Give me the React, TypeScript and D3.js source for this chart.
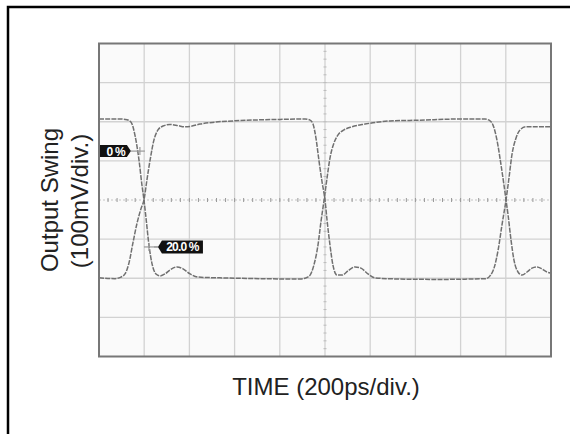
import React from 'react'
import * as d3 from 'd3'

// scope traces, [time ps, level mV]
const traceA: [number, number][] = [
  [0, 207], [93, 207], [124, 205], [142, 199], [159, 166], [177, 102], [190, 38], [199, 0],
  [208, -46], [221, -115], [235, -164], [252, -189], [270, -194], [292, -189], [314, -179],
  [345, -171], [372, -176], [403, -189], [438, -197], [535, -199], [712, -201], [889, -202],
  [916, -199], [934, -192], [951, -166], [969, -115], [982, -56], [996, 0], [1009, 56],
  [1022, 107], [1040, 146], [1057, 166], [1084, 179], [1119, 187], [1177, 194], [1288, 202],
  [1420, 204], [1597, 207], [1708, 207], [1726, 204], [1743, 192], [1761, 153], [1779, 89],
  [1792, 38], [1801, 0], [1810, -38], [1823, -102], [1836, -153], [1854, -184], [1872, -192],
  [1894, -184], [1916, -174], [1938, -171], [1960, -176], [1982, -184], [2000, -187],
]
const traceB: [number, number][] = [
  [0, -199], [71, -201], [97, -197], [115, -189], [133, -160], [150, -110], [168, -60],
  [186, -22], [199, 0], [212, 51], [226, 102], [243, 153], [261, 179], [283, 189], [314, 193],
  [350, 190], [381, 187], [412, 189], [447, 194], [513, 199], [624, 203], [801, 206],
  [912, 207], [934, 204], [947, 194], [960, 158], [973, 102], [987, 46], [1000, 0],
  [1009, -51], [1022, -115], [1035, -166], [1053, -192], [1075, -192], [1102, -181],
  [1133, -171], [1159, -174], [1190, -189], [1221, -199], [1332, -202], [1509, -203],
  [1642, -202], [1712, -201], [1730, -194], [1748, -174], [1766, -128], [1783, -64],
  [1801, 0], [1814, 56], [1827, 115], [1845, 158], [1863, 179], [1889, 187], [1929, 187],
  [2000, 187],
]
const cursorLabels = ['0 %', '20.0 %']
const cursorTimes = [181, 221]
const cursorLevels = [125, -120]

const W = 570, H = 434
const left = 99, right = 551, top = 43.5, bottom = 356.5

export default function App() {
  const x = d3.scaleLinear().domain([0, 2000]).range([left, right])
  const y = d3.scaleLinear().domain([-400, 400]).range([bottom, top])
  const line = d3.line<[number, number]>()
    .x(d => x(d[0])).y(d => y(d[1]))
    .curve(d3.curveMonotoneX)

  const xt = d3.range(0, 2001, 200)
  const yt = d3.range(-400, 401, 100)
  const minorX = d3.range(0, 2001, 40)
  const minorY = d3.range(-400, 401, 20)

  return (
    <svg width={W} height={H} style={{ position: 'absolute', left: 0, top: 0 }}
      fontFamily="'Liberation Sans', Arial, sans-serif">
      <rect width={W} height={H} fill="#fff" />
      <path d="M8,434V7H570" fill="none" stroke="#000" strokeWidth={2.5} />

      <rect x={left} y={top} width={right - left} height={bottom - top} fill="#fafafa" />
      {/* grid */}
      {xt.slice(1, -1).map(t => (
        <line key={'gx' + t} x1={x(t)} x2={x(t)} y1={top} y2={bottom} stroke="#d2d2d2" strokeWidth={1.3} />
      ))}
      {yt.slice(1, -1).filter(v => v !== 0).map(v => (
        <line key={'gy' + v} x1={left} x2={right} y1={y(v)} y2={y(v)} stroke="#d2d2d2" strokeWidth={1.3} />
      ))}
      {/* center axis with minor ticks */}
      <line x1={left} x2={right} y1={y(0)} y2={y(0)} stroke="#c4c4c4" strokeWidth={1} strokeDasharray="2,2" />
      {minorX.map(t => (
        <line key={'mx' + t} x1={x(t)} x2={x(t)} y1={y(0) - 2} y2={y(0) + 2} stroke="#999" strokeWidth={1} />
      ))}
      {minorY.map(v => (
        <line key={'my' + v} x1={x(1000) - 1.5} x2={x(1000) + 1.5} y1={y(v)} y2={y(v)} stroke="#bbb" strokeWidth={1} />
      ))}

      {/* traces */}
      <path d={line(traceA) || ''} fill="none" stroke="#707070" strokeWidth={1.5} strokeDasharray="5,1.2" />
      <path d={line(traceB) || ''} fill="none" stroke="#707070" strokeWidth={1.5} strokeDasharray="5,1.2" />

      {/* cursors */}
      {cursorLabels.map((lab, i) => {
        const cx = x(cursorTimes[i]), cy = y(cursorLevels[i])
        const isLeft = i === 0
        const tip = isLeft ? cx - 9 : cx + 9
        const bw = isLeft ? tip - 4 - left : 41
        const bx = isLeft ? left : tip + 4
        const d = isLeft
          ? `M${bx},${cy - 6}H${tip - 4}L${tip},${cy}L${tip - 4},${cy + 6}H${bx}Z`
          : `M${tip},${cy}L${tip + 4},${cy - 6.5}H${tip + 4 + bw}V${cy + 6.5}H${tip + 4}Z`
        return (
          <g key={lab}>
            <line x1={tip} x2={cx + 5} y1={cy} y2={cy} stroke="#999" strokeWidth={1.2} />
            {!isLeft && <line x1={cx - 5} x2={tip} y1={cy} y2={cy} stroke="#999" strokeWidth={1.2} />}
            <line x1={cx} x2={cx} y1={cy - 4} y2={cy + 4} stroke="#999" strokeWidth={1.2} />
            <path d={d} fill="#111" />
            <text x={isLeft ? tip - 6 : bx + bw / 2} y={cy + 4.5} fill="#fff" fontSize={12}
              fontWeight="bold" textAnchor={isLeft ? 'end' : 'middle'} letterSpacing={-0.8}>{lab}</text>
          </g>
        )
      })}

      <rect x={left} y={top} width={right - left} height={bottom - top} fill="none" stroke="#777" strokeWidth={2} />

      {/* axis titles */}
      <text x={326} y={395} textAnchor="middle" fontSize={24} fill="#222">TIME (200ps/div.)</text>
      <text transform="translate(58,200) rotate(-90)" textAnchor="middle" fontSize={24} fill="#222">Output Swing</text>
      <text transform="translate(88,201) rotate(-90)" textAnchor="middle" fontSize={24} fill="#222">(100mV/div.)</text>
    </svg>
  )
}
